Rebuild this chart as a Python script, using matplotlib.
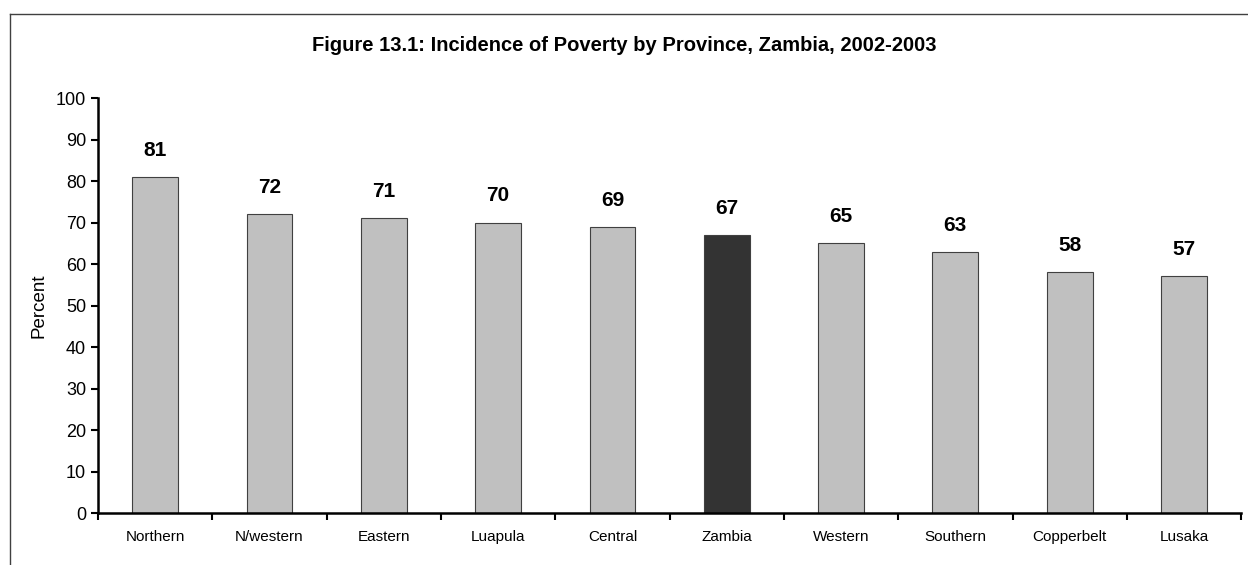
import matplotlib.pyplot as plt
import numpy as np
from matplotlib.lines import Line2D

plt.rcParams['font.family'] = ['Liberation Sans', 'DejaVu Sans']

provinces = ["Northern", "N/western", "Eastern", "Luapula", "Central",
             "Zambia", "Western", "Southern", "Copperbelt", "Lusaka"]
poverty = [81, 72, 71, 70, 69, 67, 65, 63, 58, 57]
highlight = "Zambia"

fig = plt.figure(figsize=(12.48, 5.65), dpi=100)
ax = fig.add_axes([0.0785, 0.092, 0.916, 0.7345])

x = np.arange(len(provinces))
colors = ["#333333" if p == highlight else "#c0c0c0" for p in provinces]
ax.bar(x, poverty, width=0.4, color=colors, edgecolor="#404040", linewidth=0.8)

for xi, v in zip(x, poverty):
    ax.text(xi, v + 6.4, str(v), ha="center", va="center",
            fontsize=15, fontweight="bold")

ax.set_xlim(-0.5, len(provinces) - 0.5)
ax.set_ylim(0, 100)
ax.set_yticks(range(0, 101, 10))
ax.set_xticks(x)
ax.set_xticklabels(provinces, fontsize=11)
ax.set_xticks(np.arange(-0.5, len(provinces), 1.0), minor=True)
ax.tick_params(axis="x", which="major", length=0, pad=12)
ax.tick_params(axis="x", which="minor", length=5, width=1.5, direction="out")
ax.tick_params(axis="y", labelsize=13, length=5, width=1.5, direction="out")

ax.spines["top"].set_visible(False)
ax.spines["right"].set_visible(False)
ax.spines["left"].set_linewidth(1.8)
ax.spines["bottom"].set_linewidth(1.8)

ax.set_ylabel("Percent", fontsize=13.5, labelpad=6)

fig.text(0.5, 0.92, "Figure 13.1: Incidence of Poverty by Province, Zambia, 2002-2003",
         ha="center", va="center", fontsize=14.5, fontweight="bold")

# outer frame (top and left visible)
fig.add_artist(Line2D([0.008, 1.0], [0.975, 0.975], transform=fig.transFigure,
                      color="#404040", linewidth=1.0))
fig.add_artist(Line2D([0.008, 0.008], [0.0, 0.975], transform=fig.transFigure,
                      color="#404040", linewidth=1.0))

fig.savefig("out.png", dpi=100)
